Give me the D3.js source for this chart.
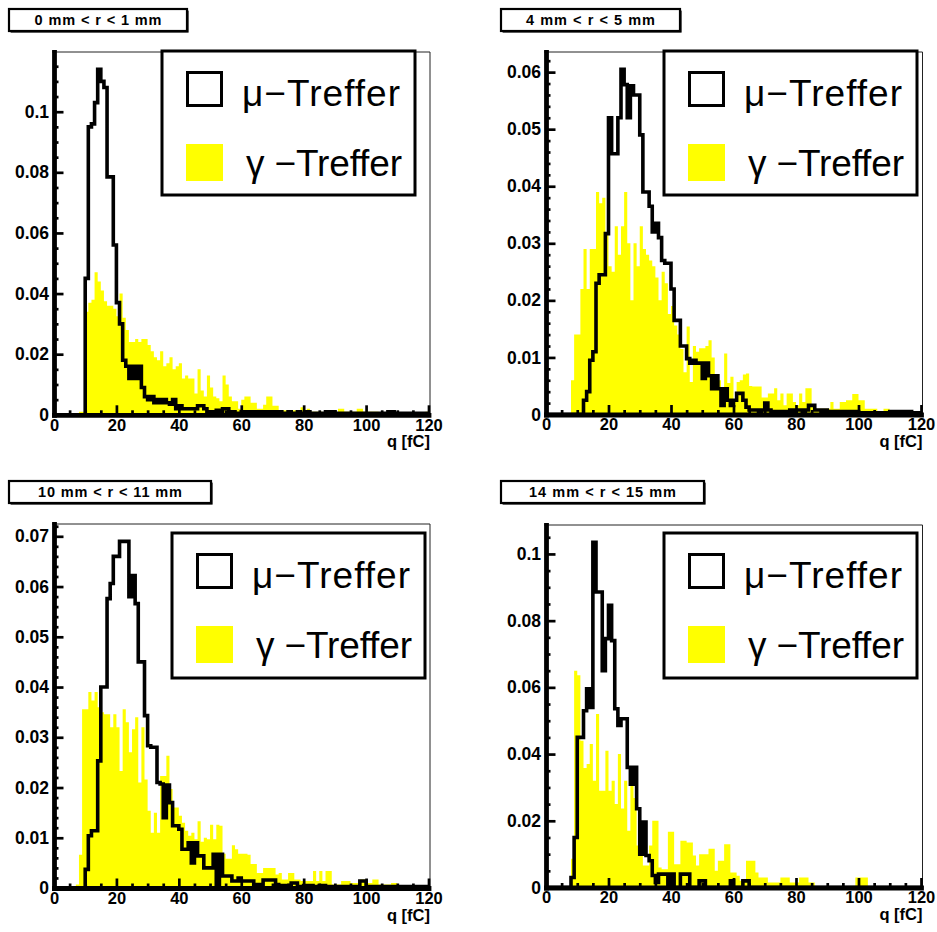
<!DOCTYPE html>
<html><head><meta charset="utf-8">
<script src="https://cdn.jsdelivr.net/npm/d3@7"></script>
<style>body{margin:0;background:#fff}svg{display:block}</style>
</head><body>
<svg id="c" width="937" height="932"></svg>
<script>
// ---------- DATA ----------
const binLowEdges = d3.range(0, 120);      // 1 fC bins, 0..120 fC
const xTickValues = [0, 20, 40, 60, 80, 100, 120];
const titles = ["0 mm < r < 1 mm", "4 mm < r < 5 mm", "10 mm < r < 11 mm", "14 mm < r < 15 mm"];
const legendLabels = ["\u03bc\u2212Treffer", "\u03b3 \u2212Treffer"];
const xAxisTitle = "q [fC]";

const muP1 = [
0,0,0,0,0,0,0,0,0,0,
.045,.095,.096,.103,.114,.110,.108,.0785,.0785,.056,
.037,.030,.018,.016,.012,.016,.012,.016,.009,.006,
.005,.006,.004,.005,.004,.005,.004,.0035,.005,.002,
.003,.002,.002,.002,.002,.002,.003,.003,.002,.001,
.001,.001,.0015,.001,.002,.002,.001,.001,.0005,.0005,
.001,.001,.0005,.001,.001,.0005,.001,.001,.001,.0005,
.001,.0005,.001,.0005,.0005,.001,.0005,.0005,.001,.0005,
.0005,.001,.0005,0,.0005,.0005,.0005,.001,.0005,.001,
.0005,0,.0005,.0005,0,.0005,.0005,0,.0005,.0005,
.0005,0,.0005,.0005,0,.0005,.0005,.001,.001,.0005,
0,.0005,.0005,0,.0005,.0005,0,.0005,.0005,.0005];
const gammaP1 = [
0,0,0,0,0,0,0,0,.001,.001,
.034,.037,.038,.047,.044,.041,.0375,.036,.036,.035,
.0325,.040,.032,.028,.024,.024,.025,.024,.025,.025,
.023,.021,.019,.018,.021,.016,.017,.019,.015,.016,
.017,.012,.013,.012,.012,.007,.015,.008,.006,.013,
.009,.006,.0055,.0045,.013,.010,.006,.0045,.0045,.002,
.005,.006,.006,.004,.004,.002,.002,.0033,.006,.006,
.003,.003,.0015,.0015,.0015,.0015,.0015,.0015,.0015,.0025,
.001,.002,.001,.001,.001,.001,.0005,.0005,.0005,.0005,
.0005,.002,.002,.001,.001,.001,.001,.002,.002,.001,
.001,.001,.001,.001,.0005,.0005,.0005,.0005,.0005,.0005,
.0005,.0005,.0005,.0005,.0005,.0005,.0005,.0005,.0005,.001];

const muP2 = [
0,0,0,0,0,0,0,0,0,0,
0,0,.0025,.004,.0095,.011,.023,.0245,.0245,.0317,
.052,.0457,.0457,.052,.0605,.0578,.052,.0576,.056,.056,
.049,.039,.039,.0365,.032,.0335,.031,.027,.0265,.0265,
.022,.0165,.0165,.012,.012,.0098,.009,.0095,.009,.009,
.0063,.009,.0068,.0045,.0068,.0045,.0016,.0045,.0025,.0016,
.0025,.0037,.0037,.0025,.0013,.0008,.0008,.0008,.0005,.0008,
.002,.0008,.0005,.0005,.0005,.0005,.0005,.0005,.0008,.0005,
.0008,.0008,.0005,.0008,.0016,.0016,.0008,.0008,.0005,.0008,
.0005,.0005,.0005,.0005,.0005,.0005,.0005,.0005,.0005,.0005,
.0003,.0003,.0003,.0003,.0003,.0003,.0003,.0003,.0003,.0003,
.0005,.0005,.0005,.0005,.0005,.0005,.0005,.0003,.0003,.0003];
const gammaP2 = [
0,0,0,0,0,0,0,0,.006,.014,
.014,.022,.029,.022,.029,.029,.039,.037,.038,.032,
.026,.025,.033,.028,.033,.039,.030,.020,.030,.026,
.033,.029,.028,.027,.026,.024,.020,.025,.023,.0176,
.019,.0156,.014,.0115,.0074,.0154,.0057,.012,.011,.0116,
.0116,.012,.013,.010,.006,.006,.004,.0107,.0055,.0066,
.0025,.0057,.006,.007,.0072,.005,.0049,.0049,.0049,.003,
.003,.0037,.0037,.0046,.0025,.0037,.0016,.0037,.0037,.0022,
.0016,.0037,.0022,.0046,.0046,.0016,.001,.001,.001,.001,
.001,.0022,.001,.001,.0022,.0022,.0025,.0025,.0036,.0036,
.0025,.0025,.001,.001,.001,.001,.0005,.0005,.001,.001,
.0002,.0002,.0002,.0002,.0002,.0002,.0002,.0002,.0002,.0002];

const muP3 = [
0,0,0,0,0,0,0,0,0,0,
.0037,.0104,.0114,.0114,.0253,.040,.040,.0576,.0606,.066,
.066,.069,.069,.069,.058,.0622,.0566,.045,.045,.0343,
.0283,.028,.028,.021,.0207,.014,.0205,.017,.0124,.0124,
.0117,.0077,.0077,.009,.005,.009,.0064,.0064,.004,.004,
.004,.0067,.0004,.0067,.0024,.0024,.0024,.0014,.0014,.002,
.0014,.0014,.0014,.0014,.0007,.0007,.0007,.0016,.0016,.0016,
.0016,.0007,.0005,.0005,.0005,.0005,.001,.001,.0003,.0003,
.0005,.0005,.0005,.0003,.0003,.0005,.0005,.0003,.0003,.0003,
.0003,.0003,.0003,.0003,.0003,.0003,.0003,.0003,.0014,.0014,
.0003,.0003,.0003,.0003,.0003,.0003,.0003,.0003,.0003,.0003,
.0003,.0003,.0003,.0003,.0003,.0003,.0003,.0003,.0003,.0003];
const gammaP3 = [
0,0,0,0,0,0,0,.0007,.0066,.0356,
.0356,.039,.0373,.039,.036,.035,.0346,.0346,.032,.0346,
.032,.0233,.0356,.033,.027,.0316,.034,.021,.032,.0216,
.0154,.011,.015,.011,.0223,.0223,.0263,.0197,.016,.016,
.0144,.013,.0114,.0104,.011,.0097,.0133,.0092,.010,.0097,
.0126,.0097,.0126,.0124,.0068,.0058,.0058,.0085,.0077,.0068,
.0068,.0068,.0066,.0048,.0048,.003,.003,.004,.004,.004,
.004,.0027,.003,.0017,.0017,.003,.003,.0017,.0017,.0014,
.0014,.0014,.0014,.0034,.0014,.0034,.0014,.0034,.0034,.0007,
.0007,.0007,.0014,.0014,.0014,.001,.001,.001,.0017,.0017,
.001,.001,.0017,.0017,.0007,.0007,.0007,.0007,.001,.001,
.0003,.0003,.0003,.0003,.0003,.0003,.0003,.0003,.0003,.0003];

const muP4 = [
0,0,0,0,0,0,0,0,.003,.015,
.045,.045,.053,.0596,.054,.1035,.0886,.0886,.065,.0746,
.0846,.074,.0536,.0486,.0506,.0506,.036,.031,.036,.0236,
.010,.0196,.0096,.008,.0036,.0015,.004,.004,.004,0,
.004,0,0,.004,.004,.004,0,0,0,.002,
.002,0,0,0,0,0,0,0,0,.002,
0,0,0,.002,.002,0,0,0,0,0,
0,0,0,0,0,0,0,0,0,0,
0,0,0,0,0,0,0,0,0,0,
0,0,0,0,0,0,0,0,0,0,
0,0,0,0,0,0,0,0,0,0,
0,0,0,0,0,0,0,0,0,0];
const gammaP4 = [
0,0,0,0,0,0,0,0,.0086,.065,
.0636,.044,.0358,.037,.043,.032,.052,.029,.029,.041,
.029,.032,.025,.040,.0237,.032,.017,.031,.0268,.0126,
.012,.0066,.0066,.0126,.020,.020,.006,.0055,.0055,.0167,
.0167,.007,.007,.014,.014,.0135,.0135,.0096,.0066,.010,
.010,.010,.0116,.0116,.005,.008,.008,.013,.013,.0045,
.0045,.0035,.002,.002,.008,.008,.008,.0045,.003,.003,
.003,.0015,.0015,.0015,.0015,.003,.003,.003,.0015,.0015,
.0015,.003,.003,.003,.0015,.0015,0,0,0,0,
0,0,0,0,0,0,0,0,0,.003,
.003,.003,.003,0,0,0,0,0,0,0,
0,0,0,0,0,0,0,0,0,0];

const muSeries = [muP1, muP2, muP3, muP4];
const gammaSeries = [gammaP1, gammaP2, gammaP3, gammaP4];
const yMajorSteps = [0.02, 0.01, 0.01, 0.02];
const yMinorSteps = [0.005, 0.002, 0.002, 0.005];

// ---------- LAYOUT ----------
const layout = [
  {x0:54,  x1:428.5, y0:414.8, top:52,  title:[9,9,178,22],    legend:[162,51,253,144]},
  {x0:546, x1:921,   y0:414.5, top:52,  title:[501,9,179,22],  legend:[664,51,253,144]},
  {x0:54,  x1:428.5, y0:888,   top:524, title:[9,481,202,22],  legend:[172,533,253,145]},
  {x0:546, x1:921,   y0:887.5, top:525, title:[501,481,203,22],legend:[664,533,253,145]}
];
const titleTextLen = [127, 129, 144, 147];
const FONT = "'Liberation Sans', Arial, Helvetica, sans-serif";
const YELLOW = "#ffff00";

const svg = d3.select("#c");
svg.append("rect").attr("width", 937).attr("height", 932).attr("fill", "#fff");

const fmt = v => v === 0 ? "0" : String(+v.toFixed(3));

titles.forEach((title, i) => {
  const L = layout[i];
  const mu = muSeries[i], gamma = gammaSeries[i];
  const x = d3.scaleLinear().domain([0, 120]).range([L.x0, L.x1]);
  const ymax = 1.05 * d3.max(mu);
  const y = d3.scaleLinear().domain([0, ymax]).range([L.y0, L.top]);
  const g = svg.append("g");

  // thin frame (top & right)
  g.append("path")
    .attr("d", `M${L.x0 - 2},${L.top}H${L.x1 + 1.5}V${L.y0}`)
    .attr("fill", "none").attr("stroke", "#222").attr("stroke-width", 1);

  const pts = arr => binLowEdges.map(k => [k, arr[k]]).concat([[120, arr[119]]]);

  // gamma filled histogram
  const area = d3.area().curve(d3.curveStepAfter)
    .x(d => x(d[0])).y0(y(0)).y1(d => y(d[1]));
  g.append("path").attr("d", area(pts(gamma))).attr("fill", YELLOW);

  // axes
  const yMajor = d3.range(0, ymax * 0.995, yMajorSteps[i]).map(v => +v.toFixed(4));
  const yMinor = d3.range(0, ymax, yMinorSteps[i]).map(v => +v.toFixed(4))
    .filter(v => !yMajor.some(m => Math.abs(m - v) < 1e-7));
  const xMinor = d3.range(0, 121, 5).filter(v => v % 20 !== 0);

  const yMinAx = g.append("g").attr("transform", `translate(${L.x0},0)`)
    .call(d3.axisLeft(y).tickValues(yMinor).tickSize(-4.5).tickFormat(""));
  yMinAx.select(".domain").remove();
  const yAx = g.append("g").attr("transform", `translate(${L.x0},0)`)
    .call(d3.axisLeft(y).tickValues(yMajor).tickSize(-9.5).tickSizeOuter(0).tickPadding(5).tickFormat(fmt));
  const xMinAx = g.append("g").attr("transform", `translate(0,${L.y0})`)
    .call(d3.axisBottom(x).tickValues(xMinor).tickSize(-4.5).tickFormat(""));
  xMinAx.select(".domain").remove();
  const xAx = g.append("g").attr("transform", `translate(0,${L.y0})`)
    .call(d3.axisBottom(x).tickValues(xTickValues).tickSize(-9.5).tickSizeOuter(0).tickPadding(4).tickFormat(d3.format("d")));

  g.selectAll(".tick line").attr("stroke", "#000").attr("stroke-width", 2.7);
  [yAx, xAx].forEach(a => a.select(".domain").attr("stroke", "#000").attr("stroke-width", 4.8).attr("stroke-linecap", "square"));
  yAx.selectAll(".tick text").attr("font-family", FONT).attr("font-weight", "bold")
    .attr("font-size", 17.5).attr("fill", "#000");
  xAx.selectAll(".tick text").attr("font-family", FONT).attr("font-weight", "bold")
    .attr("font-size", 16.5).attr("fill", "#000");

  // mu outline histogram
  const line = d3.line().curve(d3.curveStepAfter).x(d => x(d[0])).y(d => y(d[1]));
  g.append("path").attr("d", line(pts(mu)))
    .attr("fill", "none").attr("stroke", "#000").attr("stroke-width", 3.6)
    .attr("stroke-linejoin", "miter");

  // x-axis title
  g.append("text").attr("x", L.x1 + 1.5).attr("y", L.y0 + 32.5)
    .attr("text-anchor", "end").attr("font-family", FONT).attr("font-weight", "bold")
    .attr("font-size", 16.5).text(xAxisTitle);

  // title box
  const [tx, ty, tw, th] = L.title;
  g.append("rect").attr("x", tx + 1.6).attr("y", ty + 1.6).attr("width", tw).attr("height", th).attr("fill", "#000");
  g.append("rect").attr("x", tx).attr("y", ty).attr("width", tw).attr("height", th)
    .attr("fill", "#fff").attr("stroke", "#000").attr("stroke-width", 2.2);
  g.append("text").attr("x", tx + tw / 2).attr("y", ty + 16).attr("text-anchor", "middle")
    .attr("font-family", FONT).attr("font-weight", "bold").attr("font-size", 14.5)
    .attr("textLength", titleTextLen[i]).attr("lengthAdjust", "spacing").text(title);

  // legend
  const [lx, ly, lw, lh] = L.legend;
  g.append("rect").attr("x", lx).attr("y", ly).attr("width", lw).attr("height", lh)
    .attr("fill", "#fff").attr("stroke", "#000").attr("stroke-width", 3);
  g.append("rect").attr("x", lx + 25.5).attr("y", ly + 21.5).attr("width", 34).attr("height", 33)
    .attr("fill", "#fff").attr("stroke", "#000").attr("stroke-width", 3);
  g.append("rect").attr("x", lx + 24).attr("y", ly + 93).attr("width", 37).attr("height", 37)
    .attr("fill", YELLOW);
  g.append("text").attr("x", lx + 80).attr("y", ly + 55)
    .attr("font-family", FONT).attr("font-size", 37)
    .attr("textLength", 158).attr("lengthAdjust", "spacing").text(legendLabels[0]);
  g.append("text").attr("x", lx + 84).attr("y", ly + 125)
    .attr("font-family", FONT).attr("font-size", 37)
    .attr("textLength", 156).attr("lengthAdjust", "spacing").text(legendLabels[1]);
});
</script>
</body></html>
